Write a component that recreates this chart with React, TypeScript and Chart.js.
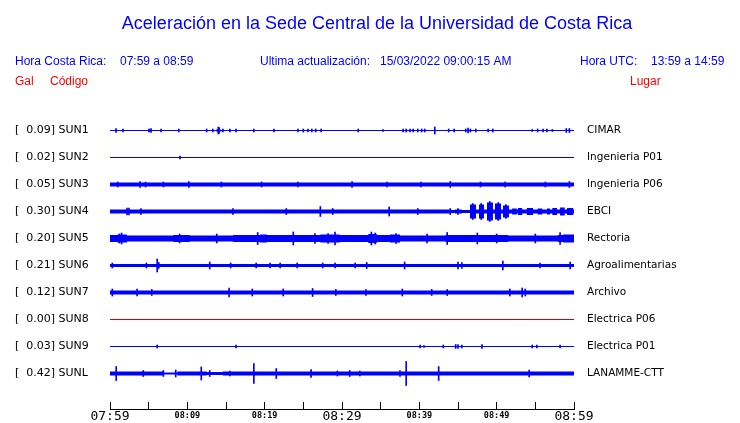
import React, { useEffect, useRef } from 'react';
import { Chart, registerables } from 'chart.js';

Chart.register(...registerables);

// ---------------- data ----------------
const TITLE = 'Aceleración en la Sede Central de la Universidad de Costa Rica';
const CODES = ['SUN1', 'SUN2', 'SUN3', 'SUN4', 'SUN5', 'SUN6', 'SUN7', 'SUN8', 'SUN9', 'SUNL'];
const PEAK_GAL = [0.09, 0.02, 0.05, 0.3, 0.2, 0.21, 0.12, 0.0, 0.03, 0.42];
const PLACES = [
  'CIMAR', 'Ingenieria P01', 'Ingenieria P06', 'EBCI', 'Rectoria',
  'Agroalimentarias', 'Archivo', 'Electrica P06', 'Electrica P01', 'LANAMME-CTT',
];
// minutes after 07:59
const TIME_TICKS = [0, 5, 10, 15, 20, 25, 30, 35, 40, 45, 50, 55, 60];
const TIME_LABELS = ['07:59', '', '08:09', '', '08:19', '', '08:29', '', '08:39', '', '08:49', '', '08:59'];
const WINDOW_MIN = 60;

// envelopes: [start minute, half amplitude (trace units)]
const SUN1_ENV = [[0, 0.5], [4.9, 1], [5.4, 0.5], [13.7, 1], [14.4, 0.5]];
const SUN2_ENV = [[0, 0.5]];
const SUN3_ENV = [[0, 2]];
const SUN4_ENV = [
  [0, 2], [43.97, 1.5], [44.6, 2], [45.5, 1.5], [46.55, 7], [47.33, 2], [47.72, 7],
  [48.36, 2], [48.75, 9], [49.52, 2], [49.78, 8], [50.56, 2], [50.82, 6],
  [51.59, 2], [52.0, 3], [52.6, 2], [52.75, 3.5], [53.3, 2], [53.9, 3.5], [54.7, 2],
  [55.3, 3], [55.9, 2], [56.5, 3], [56.9, 2], [57.2, 3.5], [57.8, 2], [58.2, 4],
  [58.8, 2], [59.1, 3.5], [59.9, 2],
];
const SUN5_ENV = [
  [0, 3.5], [1.0, 4], [2.2, 3], [5.6, 3], [8.2, 3.5], [10.3, 3], [15.9, 3.5], [19.4, 4],
  [20.3, 3.5], [23.3, 3.5], [27.2, 4], [29.7, 3.5], [33.4, 4.5], [34.5, 3.5], [36.2, 4],
  [37.5, 3], [43.4, 3.5], [48.0, 3.5], [51.5, 3], [57.9, 3.5], [58.6, 4],
];
const SUN6_ENV = [[0, 1.5]];
const SUN7_ENV = [[0, 2]];
const SUN8_ENV = [[0, 0.5]];
const SUN9_ENV = [[0, 0.5]];
const SUNL_ENV = [[0, 2], [6.9, 1], [8.7, 2], [12.5, 1.5], [14.6, 2]];

// spikes: [minute, half amplitude (trace units)]
const SUN1_SPIKES = [
  [0.78, 2], [1.68, 1.5], [5.04, 1.5], [5.3, 2], [6.6, 1.5], [8.9, 1.5], [12.5, 1.5], [13.3, 1.5],
  [14.0, 3.5], [14.1, 3], [14.6, 1.5], [15.5, 1.5], [16.3, 1.5], [18.6, 1.5], [21.2, 1.5],
  [24.3, 1.5], [25.0, 1.5], [25.6, 1.5], [26.1, 1.5], [26.6, 1.5], [27.3, 1.5], [32.1, 1.5],
  [35.3, 1], [37.9, 1.5], [38.3, 1.5], [38.8, 1.5], [39.2, 1.5], [39.8, 1.5], [40.3, 1.5],
  [40.7, 1.5], [42.0, 3.5], [43.8, 1.5], [44.5, 1.5], [46.0, 1.5], [46.3, 2.5], [46.6, 1.5],
  [47.3, 1.5], [48.9, 1.5], [49.5, 1.5], [54.6, 1], [55.3, 1.5], [56.0, 1.5], [56.5, 1.5],
  [57.2, 1], [59.0, 2], [59.4, 2],
];
const SUN2_SPIKES = [[9.05, 1.5]];
const SUN3_SPIKES = [
  [1.0, 2.5], [3.9, 3], [4.6, 2.5], [6.9, 2.5], [10.2, 3], [14.4, 2.5], [19.6, 2.5], [24.3, 2.5],
  [31.3, 3], [35.8, 2.5], [40.2, 2.5], [44.0, 3], [47.9, 2.5], [51.1, 2.5], [56.3, 2.5], [59.4, 3],
];
const SUN4_SPIKES = [
  [2.2, 3.5], [2.45, 3.5], [4.0, 3], [15.9, 3], [22.8, 3], [27.2, 5], [28.8, 3], [36.1, 4.5],
  [39.8, 3], [44.0, 3], [45.0, 3], [46.9, 8], [48.0, 8], [49.1, 10], [50.2, 9], [51.2, 7],
];
const SUN5_SPIKES = [
  [1.5, 5.5], [19.1, 6], [23.7, 6.5], [29.1, 6.5], [33.8, 6.5], [37.0, 5], [43.6, 6], [47.5, 5.5],
  [58.2, 6], [1.2, 4.5], [9.0, 4.5], [13.8, 4.5], [26.5, 5], [28.2, 5], [34.3, 5.5], [41.0, 4.5],
  [50.0, 4.5], [55.0, 4.5],
];
const SUN6_SPIKES = [
  [0.3, 2.5], [4.7, 2.5], [6.1, 6.5], [6.3, 3], [12.9, 3.5], [15.6, 2.5], [18.9, 2.5], [20.7, 2.5],
  [22.0, 2.5], [24.2, 2.5], [27.5, 2.5], [29.1, 2.5], [31.7, 2.5], [33.2, 3], [38.1, 3.5],
  [45.0, 3.5], [45.5, 3], [50.8, 4.5], [55.6, 2.5], [59.5, 3.5],
];
const SUN7_SPIKES = [
  [0.3, 3.5], [3.5, 3.5], [5.4, 3], [15.4, 4.5], [18.4, 3.5], [22.4, 3.5], [26.2, 4], [29.2, 3],
  [33.1, 3], [37.8, 3.5], [41.6, 3], [43.6, 3], [51.7, 3.5], [53.3, 4.5], [53.7, 3.5],
];
const SUN8_SPIKES: number[][] = [];
const SUN9_SPIKES = [
  [6.1, 1.5], [16.3, 1.5], [40.1, 1.5], [40.6, 1], [43.1, 1.5], [44.7, 2], [45.0, 2], [45.5, 1.5],
  [48.1, 2], [54.6, 1.5], [55.2, 1.5], [58.2, 1.5],
];
const SUNL_SPIKES = [
  [0.8, 7], [4.3, 3], [6.9, 3], [8.5, 3.5], [11.8, 6.5], [12.9, 3], [15.5, 2.5], [18.6, 10],
  [21.5, 5], [26.0, 4], [29.4, 2.5], [31.0, 3], [32.3, 2.5], [37.5, 3], [38.3, 12], [42.5, 7],
  [54.2, 3.5],
];

const ENVELOPES = [SUN1_ENV, SUN2_ENV, SUN3_ENV, SUN4_ENV, SUN5_ENV, SUN6_ENV, SUN7_ENV, SUN8_ENV, SUN9_ENV, SUNL_ENV];
const SPIKES = [SUN1_SPIKES, SUN2_SPIKES, SUN3_SPIKES, SUN4_SPIKES, SUN5_SPIKES, SUN6_SPIKES, SUN7_SPIKES, SUN8_SPIKES, SUN9_SPIKES, SUNL_SPIKES];

// ---------------- presentation ----------------
const ROW_SPACING = 27;
const BLUE = '#0000ff';
const RED_TRACE = '#d40000';
const TRACE_COLORS = CODES.map((c) => (c === 'SUN8' ? RED_TRACE : BLUE));

const LEFT_LABELS = CODES.map((c, i) => `[${PEAK_GAL[i].toFixed(2).padStart(6, ' ')}] ${c}`);

function buildDatasets() {
  const ds: any[] = [];
  ENVELOPES.forEach((env, i) => {
    const c = i * ROW_SPACING;
    const color = TRACE_COLORS[i];
    const pts = [...env, [WINDOW_MIN, env[env.length - 1][1]]];
    const common = {
      type: 'line',
      stepped: true,
      borderColor: 'rgba(0,0,0,0)',
      borderWidth: 1,
      pointRadius: 0,
      backgroundColor: color,
      tension: 0,
    };
    ds.push({ ...common, data: pts.map(([t, a]) => ({ x: t, y: c - a })), fill: false });
    ds.push({ ...common, data: pts.map(([t, a]) => ({ x: t, y: c + a })), fill: '-1' });
    const sp = SPIKES[i];
    if (sp.length) {
      ds.push({
        type: 'bar',
        data: sp.map(([t, a]) => ({ x: t, y: [c - a, c + a] })),
        backgroundColor: color,
        barThickness: 1,
        grouped: false,
        borderWidth: 0,
      });
    }
  });
  return ds;
}

const headerPlugin = {
  id: 'header',
  afterDraw(chart: any) {
    const ctx = chart.ctx;
    ctx.save();
    ctx.textBaseline = 'alphabetic';
    ctx.fillStyle = BLUE;
    ctx.textAlign = 'center';
    ctx.font = '18px "Liberation Sans", Arial, sans-serif';
    ctx.fillText(TITLE, 377, 29);
    ctx.textAlign = 'left';
    ctx.font = '12px "Liberation Sans", Arial, sans-serif';
    ctx.fillText('Hora Costa Rica:', 15, 65);
    ctx.fillText('07:59 a 08:59', 120, 65);
    ctx.fillText('Ultima actualización:', 260, 65);
    ctx.fillText('15/03/2022 09:00:15 AM', 380, 65);
    ctx.fillText('Hora UTC:', 580, 65);
    ctx.fillText('13:59 a 14:59', 651, 65);
    ctx.fillStyle = '#ff0000';
    ctx.fillText('Gal', 15, 85);
    ctx.fillText('Código', 50, 85);
    ctx.fillText('Lugar', 630, 85);

    // time axis baseline under the tick marks
    const xs = chart.scales.x;
    const x0 = Math.round(xs.getPixelForValue(0));
    const x1 = Math.round(xs.getPixelForValue(WINDOW_MIN));
    ctx.fillStyle = '#000';
    ctx.fillRect(x0, xs.top + 7, x1 - x0 + 1, 1);
    ctx.restore();
  },
};

const rowTicks = (axis: any) => {
  axis.ticks = CODES.map((_, i) => ({ value: i * ROW_SPACING }));
};

export default function App() {
  const ref = useRef<HTMLCanvasElement>(null);
  useEffect(() => {
    if (!ref.current) return;
    const chart = new Chart(ref.current, {
      type: 'line',
      data: { datasets: buildDatasets() },
      plugins: [headerPlugin],
      options: {
        animation: false,
        responsive: false,
        devicePixelRatio: 1,
        events: [],
        layout: { padding: { top: 103, left: 15, right: 0, bottom: 0 } },
        plugins: { legend: { display: false }, tooltip: { enabled: false }, title: { display: false } },
        scales: {
          x: {
            type: 'linear',
            min: 0,
            max: WINDOW_MIN,
            offset: false,
            afterBuildTicks: (axis: any) => {
              axis.ticks = TIME_TICKS.map((v) => ({ value: v }));
            },
            afterFit: (axis: any) => {
              axis.height = 21;
            },
            border: { display: false },
            grid: {
              display: true, offset: false, drawOnChartArea: false, drawTicks: true,
              tickLength: 7, color: '#000', lineWidth: 1,
            },
            ticks: {
              autoSkip: false,
              maxRotation: 0,
              padding: 0,
              color: '#000',
              callback: (_v: any, i: number) => TIME_LABELS[i],
              font: (ctx: any) =>
                ctx.tick && ctx.tick.value % 30 === 0
                  ? { family: '"DejaVu Sans Mono", monospace', size: 13, lineHeight: 1.2 }
                  : { family: '"DejaVu Sans Mono", monospace', size: 8.5, weight: 'bold', lineHeight: 1.55 },
            },
          },
          y: {
            type: 'linear',
            position: 'left',
            reverse: true,
            min: -27.5,
            max: 271.5,
            afterBuildTicks: rowTicks,
            afterFit: (axis: any) => {
              axis.width = 95;
            },
            border: { display: false },
            grid: { display: false, drawTicks: false },
            ticks: {
              autoSkip: false,
              crossAlign: 'far',
              color: '#000',
              font: { family: '"DejaVu Sans", sans-serif', size: 11 },
              callback: (_v: any, i: number) => LEFT_LABELS[i],
            },
          },
          y2: {
            type: 'linear',
            position: 'right',
            reverse: true,
            min: -27.5,
            max: 271.5,
            afterBuildTicks: rowTicks,
            afterFit: (axis: any) => {
              axis.width = 166;
            },
            border: { display: false },
            grid: { display: false, drawTicks: false },
            ticks: {
              autoSkip: false,
              padding: 13,
              crossAlign: 'near',
              color: '#000',
              font: { family: '"DejaVu Sans", sans-serif', size: 10.5 },
              callback: (_v: any, i: number) => PLACES[i],
            },
          },
        },
      } as any,
    } as any);
    return () => chart.destroy();
  }, []);
  return (
    <div style={{ position: 'absolute', left: 0, top: 0, width: 740, height: 423 }}>
      <canvas ref={ref} width={740} height={423} />
    </div>
  );
}
